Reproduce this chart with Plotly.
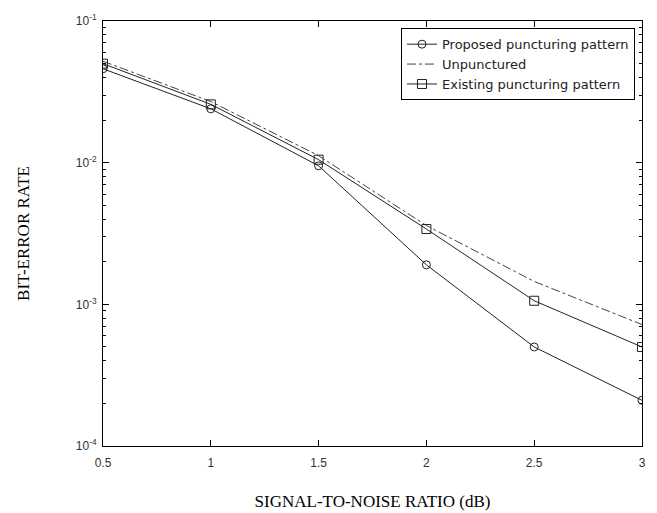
import plotly.graph_objects as go

snr = [0.5, 1.0, 1.5, 2.0, 2.5, 3.0]
proposed = [0.046, 0.024, 0.0095, 0.0019, 0.00050, 0.00021]
unpunctured = [0.052, 0.027, 0.0112, 0.0036, 0.00145, 0.00072]
existing = [0.050, 0.0258, 0.0105, 0.0034, 0.00106, 0.00050]

x_ticks = [0.5, 1, 1.5, 2, 2.5, 3]
x_tick_text = ["0.5", "1", "1.5", "2", "2.5", "3"]
y_ticks = [1e-4, 1e-3, 1e-2, 1e-1]
y_tick_text = ["10<sup>-4</sup>", "10<sup>-3</sup>", "10<sup>-2</sup>", "10<sup>-1</sup>"]
y_minor = [m * d for d in (1e-4, 1e-3, 1e-2) for m in range(2, 10)]

fig = go.Figure()
fig.add_trace(go.Scatter(
    x=snr, y=proposed, name="Proposed puncturing pattern", mode="lines+markers",
    line=dict(color="#222", width=1),
    marker=dict(symbol="circle-open", size=8, color="#222", line=dict(width=1))))
fig.add_trace(go.Scatter(
    x=snr, y=unpunctured, name="Unpunctured", mode="lines",
    line=dict(color="#444", width=1, dash="dashdot")))
fig.add_trace(go.Scatter(
    x=snr, y=existing, name="Existing puncturing pattern", mode="lines+markers",
    line=dict(color="#222", width=1),
    marker=dict(symbol="square-open", size=9, color="#222", line=dict(width=1))))

tick_font = dict(family="Liberation Sans, Arial", size=12, color="#333")
title_font = dict(family="Liberation Serif, Times New Roman", size=17, color="black")
axis_common = dict(showgrid=False, zeroline=False, showline=True, linecolor="black",
                   linewidth=1, mirror="allticks", ticks="inside", ticklen=6,
                   tickcolor="black", tickfont=tick_font, automargin=False)

fig.update_layout(
    width=657, height=513,
    paper_bgcolor="white", plot_bgcolor="white",
    margin=dict(l=103, r=15, t=21, b=67),
    showlegend=True,
    legend=dict(x=0.987, y=0.983, xanchor="right", yanchor="top",
                bgcolor="white", bordercolor="black", borderwidth=1,
                font=dict(family="DejaVu Sans", size=13, color="#222"),
                tracegroupgap=0, itemwidth=30),
    xaxis=dict(range=[0.5, 3], tickvals=x_ticks, ticktext=x_tick_text,
               ticklabelstandoff=6,
               title=dict(text="SIGNAL-TO-NOISE RATIO (dB)", standoff=25, font=title_font),
               **axis_common),
    yaxis=dict(type="log", range=[-4, -1], tickvals=y_ticks, ticktext=y_tick_text,
               ticklabelstandoff=3,
               minor=dict(tickvals=y_minor, ticks="inside", ticklen=3,
                          tickcolor="black", showgrid=False),
               title=dict(text="BIT-ERROR RATE", standoff=41, font=title_font),
               **axis_common),
)

fig.write_html("out.html", config={"displayModeBar": False},
               post_script="document.body.style.margin='0';document.body.style.overflow='hidden';")
